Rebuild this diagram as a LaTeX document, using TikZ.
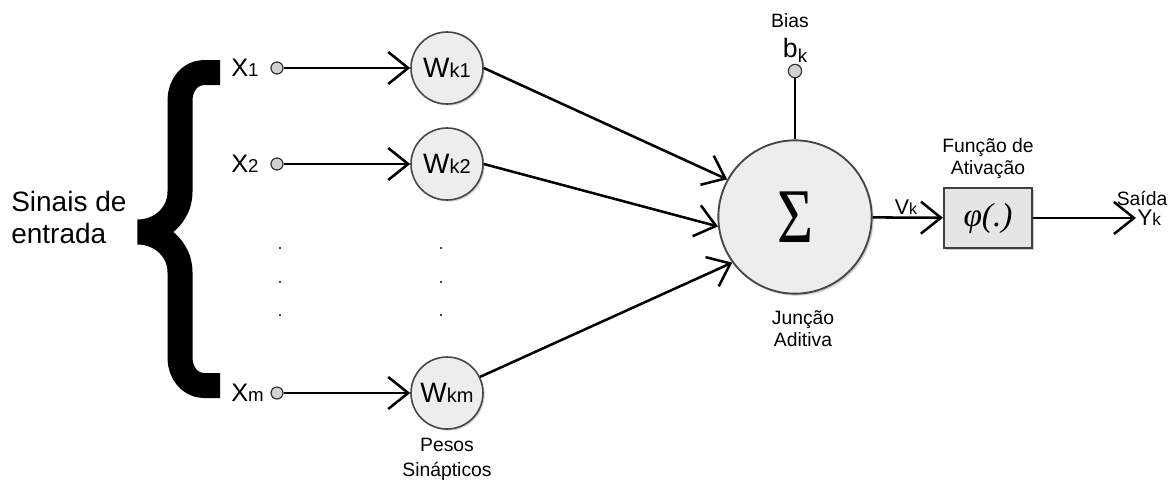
\documentclass[tikz,border=0pt]{standalone}
\usepackage{fontspec}
\setmainfont{Liberation Sans}
\newfontfamily\sigmafont{Liberation Serif}
\usetikzlibrary{arrows.meta,shadows,positioning}
\tikzset{
  peso/.style={circle,minimum size=54pt,inner sep=0pt,fill=gray!14,draw=gray!55!black,line width=1.2pt,
    drop shadow={opacity=0.35,shadow xshift=1.2pt,shadow yshift=-1.2pt}},
  soma/.style={circle,minimum size=115pt,inner sep=0pt,fill=gray!14,draw=gray!55!black,line width=1.4pt,
    drop shadow={opacity=0.35,shadow xshift=1.5pt,shadow yshift=-1.5pt}},
  terminal/.style={circle,minimum size=9pt,inner sep=0pt,fill=gray!35,draw=gray!40!black,line width=0.9pt},
  ativ/.style={rectangle,minimum width=66pt,minimum height=45pt,inner sep=0pt,fill=gray!20,draw=gray!50!black,line width=1.6pt,
    drop shadow={opacity=0.4,shadow xshift=1.5pt,shadow yshift=-1.5pt}},
  rotulo/.style={font=\fontsize{14.5}{16.5}\selectfont,align=center,inner sep=1pt},
  seta/.style={-{Straight Barb[length=15pt,width=24pt]}}
}
\begin{document}
\begin{tikzpicture}[x=0.75pt,y=-0.75pt,line width=1.9pt]
\useasboundingbox (0,0) rectangle (1176,480);
% sinais de entrada
\node[anchor=west,align=left,inner sep=0pt,font=\fontsize{21}{24}\selectfont] (sinais) at (10,217) {Sinais de\\entrada};
% chave
\draw[line width=18.75pt,line join=bevel] (220,72.5) -- (204,72.5) to[out=180,in=90] (180,100) -- (180,192)
  to[out=-90,in=0] (138,232) to[out=0,in=90] (180,272) -- (180,358) to[out=-90,in=180] (204,385.5) -- (220,385.5);
% entradas e pesos
\foreach \y/\i in {68/1,164/2,393/m}{
  \node[anchor=west,inner sep=0pt] (x\i) at (230,\y) {\fontsize{19}{20}\selectfont X{\fontsize{14}{15}\selectfont\i}};
  \node[terminal] (t\i) at (277,\y) {};
  \node[peso] (w\i) at (447,\y) {\fontsize{21}{22}\selectfont W{\fontsize{15}{16}\selectfont k\i}};
  \draw[seta] (t\i) -- (w\i);
}
% pontos
\foreach \y in {248,282,315}{
  \fill (280,\y) circle (0.9pt);
  \fill (441,\y) circle (0.9pt);
}
\node[rotulo,below=4pt of wm,font=\fontsize{14.5}{19}\selectfont] (pesos) {Pesos\\Sinápticos};
% juncao aditiva
\node[soma] (soma) at (795,217) {\sigmafont\fontsize{58}{60}\selectfont\scalebox{0.8}[1]{Σ}};
\node[rotulo] (juncao) at (803,329) {Junção\\Aditiva};
\draw[seta] (w1.east) -- (soma.151);
\draw[seta] (w2.east) -- (soma.187);
\draw[seta] (wm.26) -- (soma.216);
% bias
\node[terminal,minimum size=10pt] (bias) at (795,71) {};
\draw (bias) -- (soma);
\node[rotulo,inner sep=0pt] (biasrot) at (790,21) {Bias};
\node[inner sep=0pt] (bk) at (795,50) {\fontsize{20}{20}\selectfont b\raisebox{-4pt}{\fontsize{14}{14}\selectfont k}};
% funcao de ativacao
\node[ativ] (fi) at (988,218) {\sigmafont\itshape\fontsize{25}{26}\selectfont φ(.)};
\node[rotulo,above=4pt of fi] (funcao) {Função de\\Ativação};
\draw[seta] (soma) -- (fi);
\node[inner sep=0pt] (vk) at (906,207) {\fontsize{16}{17}\selectfont V{\fontsize{12}{13}\selectfont k}};
% saida
\coordinate (saida) at (1136,218);
\draw[seta] (fi) -- (saida);
\node[anchor=west,inner sep=0pt] (yk) at (saida) {\fontsize{17}{18}\selectfont Y{\fontsize{13}{14}\selectfont k}};
\node[rotulo] (saidarot) at (1142,198) {Saída};
\end{tikzpicture}
\end{document}
